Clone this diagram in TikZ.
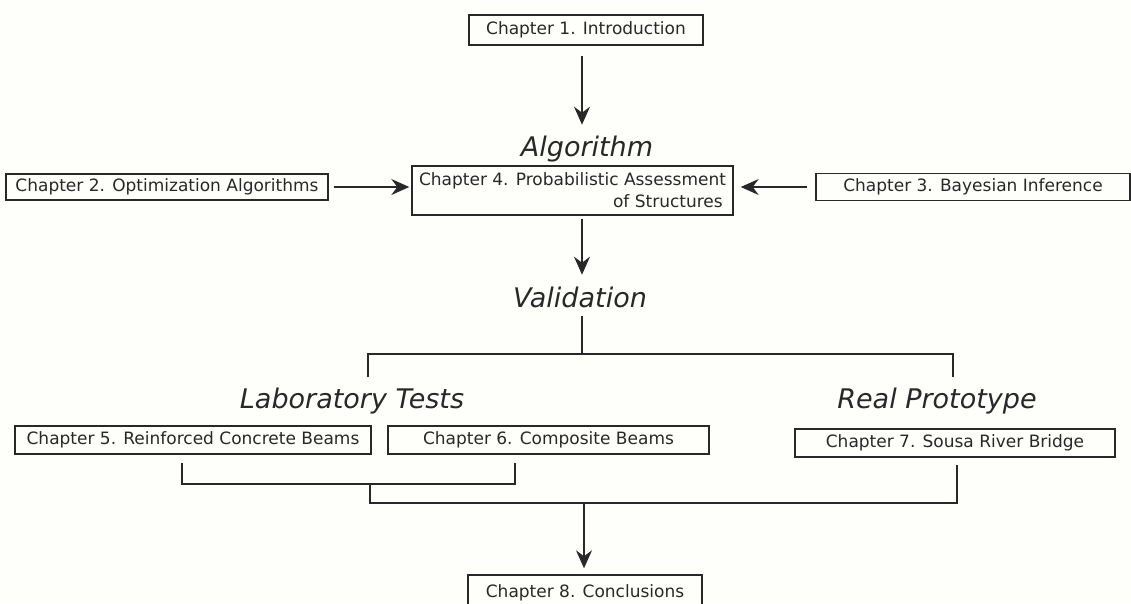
\documentclass[tikz,border=0pt]{standalone}
\usepackage{fontspec}
\setmainfont{DejaVu Sans}
\usetikzlibrary{arrows.meta}
\definecolor{ink}{RGB}{40,40,40}
\definecolor{paper}{RGB}{254,254,251}
\begin{document}
\begin{tikzpicture}[x=1pt,y=-1pt,
  chapbox/.style={draw=ink, line width=1.4pt, text=ink,
    font=\fontsize{17}{22}\selectfont, inner sep=0pt},
  heading/.style={text=ink, font=\fontsize{27}{32}\selectfont\itshape, inner sep=0pt},
  flow/.style={draw=ink, line width=1.6pt},
  arr/.style={flow, -{Stealth[length=18pt,width=16pt,inset=6pt]}}]
\clip (0,0) rectangle (1131,603);
\fill[paper] (0,0) rectangle (1131,603);

% chapter boxes
\node[chapbox, minimum width=234pt, minimum height=30pt] (c1) at (586,30) {Chapter 1. Introduction};
\node[chapbox, minimum width=322pt, minimum height=26pt] (c2) at (167,187) {Chapter 2. Optimization Algorithms};
\node[chapbox, minimum width=321pt, minimum height=49pt, align=left] (c4) at (572.5,190.5)
  {Chapter 4. Probabilistic Assessment\\\hspace*{194pt}of Structures};
\node[chapbox, minimum width=314pt, minimum height=27pt] (c3) at (973,187) {Chapter 3. Bayesian Inference};
\node[chapbox, minimum width=356pt, minimum height=28pt] (c5) at (193,440) {Chapter 5. Reinforced Concrete Beams};
\node[chapbox, minimum width=321pt, minimum height=28pt] (c6) at (548.5,440) {Chapter 6. Composite Beams};
\node[chapbox, minimum width=320pt, minimum height=28pt] (c7) at (955,443) {Chapter 7. Sousa River Bridge};
\node[chapbox, minimum width=234pt, minimum height=36pt] (c8) at (585,593) {Chapter 8. Conclusions};

% italic headings
\node[heading] (alg) at (587,149) {Algorithm};
\node[heading] (val) at (580,297) {Validation};
\node[heading] (lab) at (352,401) {Laboratory Tests};
\node[heading] (real) at (937,401) {Real Prototype};

% junction points of the tree lines
\coordinate (vtop) at (582,316);
\coordinate (vj) at (582,354);
\coordinate (lj) at (368,377);
\coordinate (rj) at (953,377);
\coordinate (t5) at (182,463);
\coordinate (t6) at (515,463);
\coordinate (t7) at (957,465);
\coordinate (m56) at (370,484);
\coordinate (mall) at (584,503);

% arrows (yshift acts on the canvas, where positive is upwards)
\draw[arr] ([xshift=-4pt,yshift=-10pt]c1.south) -- +(0,69);
\draw[arr] ([xshift=5pt]c2.east) -- ([xshift=-2pt]c2.east -| c4.west);
\draw[arr] ([xshift=-8pt]c3.west) -- ([xshift=7pt]c3.west -| c4.east);
\draw[arr] ([xshift=9.5pt,yshift=-3pt]c4.south) -- +(0,56);

% validation tree
\draw[flow] (vtop) -- (vj);
\draw[flow] (lj) |- (vj) -| (rj);

% merging of chapters 5, 6 and 7
\draw[flow] (t5) |- (m56) -| (t6);
\draw[flow] (m56) |- (mall) -| (t7);
\draw[arr] (mall) -- ([yshift=6pt]c8.north -| mall);
\end{tikzpicture}
\end{document}
